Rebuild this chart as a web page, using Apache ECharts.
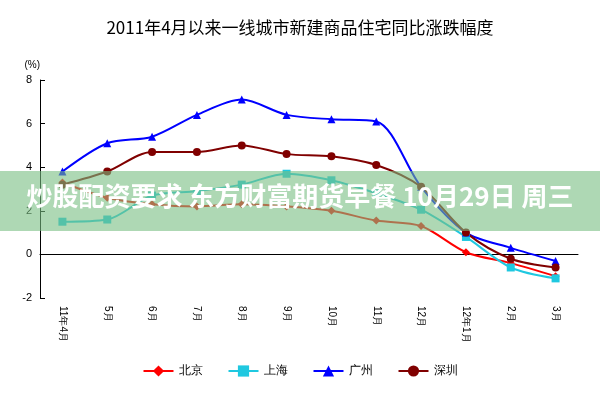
<!DOCTYPE html><html><head><meta charset="utf-8"><script src="https://cdn.jsdelivr.net/npm/echarts@6/dist/echarts.min.js"></script></head><body style="margin:0"><div id="c" style="width:600px;height:400px"></div><script>
var categories=['11年4月','5月','6月','7月','8月','9月','10月','11月','12月','12年1月','2月','3月'];
var beijing=[3.3,2.6,2.3,2.2,2.3,2.2,2.0,1.55,1.3,0.1,-0.4,-1.0];
var shanghai=[1.5,1.6,2.7,2.9,3.2,3.7,3.4,2.8,2.05,0.8,-0.6,-1.1];
var guangzhou=[3.8,5.1,5.4,6.4,7.1,6.4,6.2,6.1,3.1,1.0,0.3,-0.3];
var shenzhen=[3.2,3.8,4.7,4.7,5.0,4.6,4.5,4.1,3.1,1.0,-0.2,-0.6];
function s(n,d,c,sym){return {name:n,type:'line',data:d,symbol:sym,symbolSize:8,itemStyle:{color:c},lineStyle:{color:c,width:2},smooth:0.3};}
var ch=echarts.init(document.getElementById('c'));
ch.setOption({animation:false,
title:{text:'2011年4月以来一线城市新建商品住宅同比涨跌幅度',left:'center',top:14,textStyle:{fontSize:17,fontWeight:'normal',color:'#000',fontFamily:'Noto Sans CJK SC'}},
grid:{left:40,right:22,top:80,bottom:102},
legend:{top:360,left:'center',itemWidth:30,itemGap:25,textStyle:{fontSize:12,color:'#000'},data:['北京','上海','广州','深圳']},
xAxis:{type:'category',data:categories,boundaryGap:true,axisLine:{onZero:true,lineStyle:{color:'#000'}},axisTick:{inside:true,lineStyle:{color:'#000'}},axisLabel:{rotate:-90,fontSize:10,color:'#000',margin:8,interval:0}},
yAxis:{type:'value',min:-2,max:8,interval:2,name:'(%)',nameLocation:'end',nameGap:10,nameTextStyle:{fontSize:10,color:'#000',align:'right'},splitLine:{show:false},axisLine:{show:true,lineStyle:{color:'#000'}},axisTick:{show:true,inside:true},axisLabel:{fontSize:11,color:'#000'}},
series:[s('北京',beijing,'#ff0000','diamond'),s('上海',shanghai,'#1fc8e0','rect'),s('广州',guangzhou,'#0000ff','triangle'),s('深圳',shenzhen,'#800000','circle')],
graphic:[{type:'rect',shape:{x:0,y:171,width:600,height:60},style:{fill:'rgba(120,190,130,0.6)'},z:100},
{type:'text',left:'center',top:183,style:{text:'炒股配资要求 东方财富期货早餐 10月29日 周三',fill:'#fff',fontSize:26,fontWeight:'bold',fontFamily:'Noto Sans CJK SC'},z:101}]
});
</script></body></html>
